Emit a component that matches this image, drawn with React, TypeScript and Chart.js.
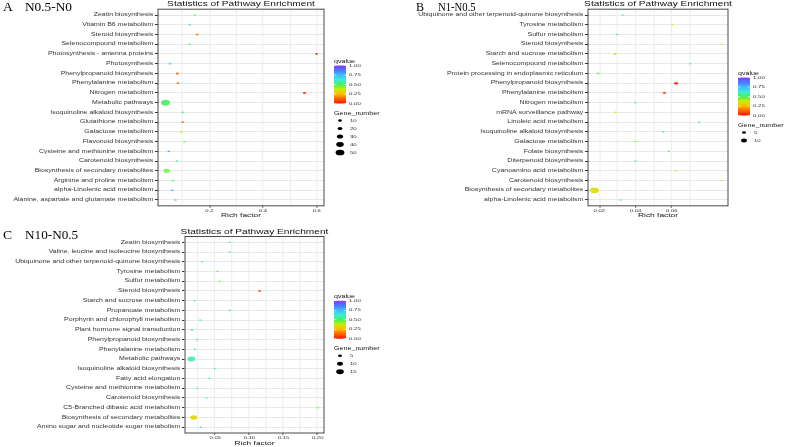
import React, { useEffect, useRef } from 'react';
import { Chart, registerables } from 'chart.js';
Chart.register(...registerables);

// horizontal stretch of the whole figure (text and bubbles are wider than tall)
const SX = 1.55;
const FONT = "'Liberation Sans', Arial, Helvetica, sans-serif";
const TITLE = 'Statistics of Pathway Enrichment';

// ---------------- Panel A : N0.5-N0 ----------------
const catsA = [
  'Zeatin biosynthesis',
  'Vitamin B6 metabolism',
  'Steroid biosynthesis',
  'Selenocompound metabolism',
  'Photosynthesis - antenna proteins',
  'Photosynthesis',
  'Phenylpropanoid biosynthesis',
  'Phenylalanine metabolism',
  'Nitrogen metabolism',
  'Metabolic pathways',
  'Isoquinoline alkaloid biosynthesis',
  'Glutathione metabolism',
  'Galactose metabolism',
  'Flavonoid biosynthesis',
  'Cysteine and methionine metabolism',
  'Carotenoid biosynthesis',
  'Biosynthesis of secondary metabolites',
  'Arginine and proline metabolism',
  'alpha-Linolenic acid metabolism',
  'Alanine, aspartate and glutamate metabolism',
];
const richA = [0.146, 0.127, 0.155, 0.127, 0.599, 0.053, 0.081, 0.083, 0.554, 0.037, 0.101, 0.101, 0.095, 0.107, 0.049, 0.079, 0.041, 0.065, 0.062, 0.074];
const qvalueA = [0.45, 0.66, 0.15, 0.52, 0.02, 0.68, 0.1, 0.13, 0.02, 0.5, 0.5, 0.13, 0.32, 0.46, 0.78, 0.6, 0.45, 0.5, 0.78, 0.52];
const genesA = [2, 2, 3, 2, 3, 3, 5, 4, 6, 50, 2, 5, 3, 2, 2, 2, 32, 2, 2, 2];
const xLabelsA = [0.2, 0.4, 0.6];
const xGridA = [0.1, 0.2, 0.3, 0.4, 0.5, 0.6];
const sizeBreaksA = [10, 20, 30, 40, 50];

// ---------------- Panel B : N1-N0.5 ----------------
const catsB = [
  'Ubiquinone and other terpenoid-quinone biosynthesis',
  'Tyrosine metabolism',
  'Sulfur metabolism',
  'Steroid biosynthesis',
  'Starch and sucrose metabolism',
  'Selenocompound metabolism',
  'Protein processing in endoplasmic reticulum',
  'Phenylpropanoid biosynthesis',
  'Phenylalanine metabolism',
  'Nitrogen metabolism',
  'mRNA surveillance pathway',
  'Linoleic acid metabolism',
  'Isoquinoline alkaloid biosynthesis',
  'Galactose metabolism',
  'Folate biosynthesis',
  'Diterpenoid biosynthesis',
  'Cyanoamino acid metabolism',
  'Carotenoid biosynthesis',
  'Biosynthesis of secondary metabolites',
  'alpha-Linolenic acid metabolism',
];
const richB = [0.0329, 0.0602, 0.0298, 0.0875, 0.0287, 0.0702, 0.0193, 0.0624, 0.056, 0.04, 0.0291, 0.0751, 0.0553, 0.04, 0.0584, 0.04, 0.062, 0.0875, 0.0173, 0.0318];
const qvalueB = [0.56, 0.36, 0.52, 0.36, 0.4, 0.56, 0.46, 0.03, 0.1, 0.58, 0.38, 0.52, 0.52, 0.44, 0.5, 0.58, 0.38, 0.35, 0.33, 0.52];
const genesB = [1, 1, 1, 1, 2, 1, 2, 5, 4, 1, 2, 1, 1, 2, 1, 1, 1, 1, 18, 1];
const xLabelsB = [0.02, 0.04, 0.06];
const xGridB = [0.02, 0.03, 0.04, 0.05, 0.06, 0.07];
const sizeBreaksB = [5, 10];

// ---------------- Panel C : N10-N0.5 ----------------
const catsC = [
  'Zeatin biosynthesis',
  'Valine, leucine and isoleucine biosynthesis',
  'Ubiquinone and other terpenoid-quinone biosynthesis',
  'Tyrosine metabolism',
  'Sulfur metabolism',
  'Steroid biosynthesis',
  'Starch and sucrose metabolism',
  'Propanoate metabolism',
  'Porphyrin and chlorophyll metabolism',
  'Plant hormone signal transduction',
  'Phenylpropanoid biosynthesis',
  'Phenylalanine metabolism',
  'Metabolic pathways',
  'Isoquinoline alkaloid biosynthesis',
  'Fatty acid elongation',
  'Cysteine and methionine metabolism',
  'Carotenoid biosynthesis',
  'C5-Branched dibasic acid metabolism',
  'Biosynthesis of secondary metabolites',
  'Amino sugar and nucleotide sugar metabolism',
];
const richC = [0.0709, 0.0709, 0.0305, 0.0534, 0.0563, 0.1148, 0.0197, 0.0709, 0.028, 0.0158, 0.0231, 0.0197, 0.0149, 0.049, 0.0412, 0.0231, 0.0373, 0.2, 0.0183, 0.0285];
const qvalueC = [0.56, 0.54, 0.57, 0.5, 0.47, 0.1, 0.57, 0.57, 0.6, 0.6, 0.57, 0.6, 0.58, 0.6, 0.6, 0.6, 0.6, 0.46, 0.3, 0.57];
const genesC = [1, 1, 1, 1, 1, 2, 1, 1, 1, 2, 1, 1, 15, 1, 1, 1, 1, 1, 13, 1];
const xLabelsC = [0.05, 0.1, 0.15, 0.2];
const xGridC = [0.025, 0.05, 0.075, 0.1, 0.125, 0.15, 0.175, 0.2];
const sizeBreaksC = [5, 10, 15];

const qvalueBreaks = [1, 0.75, 0.5, 0.25, 0];

const COLOR_STOPS: [number, string][] = [
  [0.0, '#ff1000'],
  [0.125, '#ff6400'],
  [0.25, '#ffbb00'],
  [0.375, '#c4f000'],
  [0.5, '#46f060'],
  [0.625, '#3cecd8'],
  [0.75, '#3cbcff'],
  [0.875, '#4a78ff'],
  [1.0, '#8c38ff'],
];

function hex(c: string) {
  return [parseInt(c.slice(1, 3), 16), parseInt(c.slice(3, 5), 16), parseInt(c.slice(5, 7), 16)];
}
function qColor(q: number, whiten = 0) {
  let a = COLOR_STOPS[0], b = COLOR_STOPS[COLOR_STOPS.length - 1];
  for (let i = 1; i < COLOR_STOPS.length; i++) {
    if (q <= COLOR_STOPS[i][0]) { a = COLOR_STOPS[i - 1]; b = COLOR_STOPS[i]; break; }
  }
  const t = b[0] === a[0] ? 0 : (q - a[0]) / (b[0] - a[0]);
  const ca = hex(a[1]), cb = hex(b[1]);
  const rgb = ca.map((v, i) => {
    const m = v + (cb[i] - v) * t;
    return Math.round(m + (255 - m) * whiten);
  });
  return `rgb(${rgb[0]},${rgb[1]},${rgb[2]})`;
}

interface PanelDef {
  cats: string[]; rich: number[]; qv: number[]; genes: number[];
  xLabels: number[]; xGrid: number[]; digits: number; sizeBreaks: number[];
  size: { nmin: number; nmax: number; wmin: number; wmax: number };
  box: { left: number; top: number; width: number; height: number };
  area: { left: number; right: number; top: number; bottom: number };
  padBottom: number;
}

const panelA: PanelDef = {
  cats: catsA, rich: richA, qv: qvalueA, genes: genesA, xLabels: xLabelsA, xGrid: xGridA, digits: 1,
  sizeBreaks: sizeBreaksA, size: { nmin: 1, nmax: 50, wmin: 2.5, wmax: 8.8 },
  box: { left: 0, top: 0, width: 390, height: 222 },
  area: { left: 158, right: 324, top: 9.2, bottom: 205.8 }, padBottom: 3,
};
const panelB: PanelDef = {
  cats: catsB, rich: richB, qv: qvalueB, genes: genesB, xLabels: xLabelsB, xGrid: xGridB, digits: 2,
  sizeBreaks: sizeBreaksB, size: { nmin: 1, nmax: 18, wmin: 2.5, wmax: 8.8 },
  box: { left: 390, top: 0, width: 396, height: 222 },
  area: { left: 198, right: 338, top: 9.2, bottom: 205.8 }, padBottom: 3,
};
const panelC: PanelDef = {
  cats: catsC, rich: richC, qv: qvalueC, genes: genesC, xLabels: xLabelsC, xGrid: xGridC, digits: 2,
  sizeBreaks: sizeBreaksC, size: { nmin: 1, nmax: 15, wmin: 2.5, wmax: 7.7 },
  box: { left: 0, top: 225, width: 390, height: 222 },
  area: { left: 185, right: 324, top: 11.5, bottom: 208 }, padBottom: 0,
};

function widthFor(p: PanelDef, n: number) {
  const s = p.size;
  return s.wmin + (s.wmax - s.wmin) * (n - s.nmin) / (s.nmax - s.nmin);
}

function decorPlugin(p: PanelDef) {
  return {
    id: 'decor',
    afterDraw(chart: any) {
      const ctx: CanvasRenderingContext2D = chart.ctx;
      const ca = chart.chartArea;
      ctx.save();
      // panel border
      ctx.fillStyle = '#4a4a4a';
      const vw = 1 / SX;
      ctx.fillRect(ca.left, ca.top - 0.5, ca.right - ca.left, 1);
      ctx.fillRect(ca.left, ca.bottom - 0.5, ca.right - ca.left, 1);
      ctx.fillRect(ca.left - vw / 2, ca.top - 0.5, vw, ca.bottom - ca.top + 1);
      ctx.fillRect(ca.right - vw / 2, ca.top - 0.5, vw, ca.bottom - ca.top + 1);
      // title
      ctx.fillStyle = '#111111';
      ctx.font = `6.55px ${FONT}`;
      ctx.textAlign = 'center';
      ctx.textBaseline = 'middle';
      ctx.fillText(TITLE, (ca.left + ca.right) / 2, ca.top - 4.7);
      // legend
      const nG = p.sizeBreaks.length;
      const cy = (ca.top + ca.bottom) / 2;
      const qv = cy - (30 + 4 * (nG - 1));
      const bx = ca.right + 10 / SX;
      const bw = 12 / SX;
      ctx.textAlign = 'left';
      ctx.fillStyle = '#111111';
      ctx.font = `4.6px ${FONT}`;
      ctx.fillText('qvalue', bx, qv);
      const top = qv + 4, bot = qv + 42;
      const g = ctx.createLinearGradient(0, bot, 0, top);
      COLOR_STOPS.forEach(([s, c]) => g.addColorStop(s, c));
      ctx.fillStyle = g;
      ctx.fillRect(bx, top, bw, bot - top);
      ctx.font = `3.9px ${FONT}`;
      qvalueBreaks.forEach((q) => {
        const y = bot - q * (bot - top);
        ctx.fillStyle = '#ffffff';
        ctx.fillRect(bx, y - 0.3, bw * 0.2, 0.6);
        ctx.fillRect(bx + bw * 0.8, y - 0.3, bw * 0.2, 0.6);
        ctx.fillStyle = '#2a2a2a';
        ctx.fillText(q.toFixed(2), bx + bw + 3 / SX, y);
      });
      ctx.fillStyle = '#111111';
      ctx.font = `4.6px ${FONT}`;
      ctx.fillText('Gene_number', bx, qv + 52);
      ctx.font = `3.9px ${FONT}`;
      p.sizeBreaks.forEach((n, i) => {
        const y = qv + 59 + 8 * i;
        const r = widthFor(p, n) / (2 * SX);
        ctx.fillStyle = '#000000';
        ctx.beginPath();
        ctx.arc(bx + 6 / SX, y, r, 0, Math.PI * 2);
        ctx.fill();
        ctx.fillStyle = '#2a2a2a';
        ctx.fillText(String(n), bx + 16 / SX, y);
      });
      ctx.restore();
    },
  };
}

function makeChart(canvas: HTMLCanvasElement, p: PanelDef) {
  const Lw = Math.floor(p.box.width / SX);
  canvas.width = Lw;
  canvas.height = p.box.height;
  const areaL = p.area.left / SX;
  const areaR = p.area.right / SX;
  const lo = Math.min(...p.rich), hi = Math.max(...p.rich);
  const ex = (hi - lo) * 0.05;
  const n = p.cats.length;
  const chart = new Chart(canvas, {
    type: 'bubble',
    data: {
      datasets: [{
        data: p.cats.map((_, i) => ({ x: p.rich[i], y: i, r: widthFor(p, p.genes[i]) / (2 * SX) })),
        backgroundColor: p.qv.map((q) => qColor(q, 0.1)),
        borderWidth: 0,
        hoverBorderWidth: 0,
      }],
    },
    options: {
      responsive: false,
      animation: false,
      events: [],
      devicePixelRatio: 1,
      layout: { padding: { left: 0, top: p.area.top, right: Lw - areaR, bottom: p.padBottom } },
      plugins: { legend: { display: false }, tooltip: { enabled: false }, title: { display: false } },
      scales: {
        x: {
          type: 'linear',
          bounds: 'data',
          min: lo - ex,
          max: hi + ex,
          afterBuildTicks: (s: any) => { s.ticks = p.xGrid.map((v) => ({ value: v })); },
          afterFit: (s: any) => { s.height = p.box.height - p.padBottom - p.area.bottom; },
          ticks: {
            autoSkip: false,
            maxRotation: 0,
            padding: 1,
            color: '#333333',
            font: { size: 3.8, family: FONT },
            callback: (v: any) => (p.xLabels.includes(v) ? Number(v).toFixed(p.digits) : ''),
          },
          grid: {
            color: '#e8e8e8',
            lineWidth: 1 / SX,
            tickLength: 2,
            tickWidth: 1 / SX,
            tickColor: (c: any) => (c.tick && p.xLabels.includes(c.tick.value) ? '#333333' : 'rgba(0,0,0,0)'),
          },
          border: { display: false },
          title: { display: true, text: 'Rich factor', color: '#111111', font: { size: 5.4, family: FONT }, padding: 0 },
        },
        y: {
          type: 'linear',
          bounds: 'data',
          reverse: true,
          min: -0.6,
          max: n - 0.4,
          afterBuildTicks: (s: any) => { s.ticks = p.cats.map((_, i) => ({ value: i })); },
          afterFit: (s: any) => { s.width = areaL; },
          ticks: {
            autoSkip: false,
            padding: 1,
            color: '#333333',
            font: { size: 4.5, family: FONT },
            callback: (v: any) => p.cats[Number(v)],
          },
          grid: { color: '#e8e8e8', lineWidth: 1, tickLength: 2, tickWidth: 1, tickColor: '#333333' },
          border: { display: false },
        },
      },
    } as any,
    plugins: [decorPlugin(p)],
  });
  // stretch horizontally: physical bitmap, logical layout scaled by SX
  canvas.width = p.box.width;
  chart.ctx.setTransform(SX, 0, 0, 1, 0, 0);
  chart.draw();
  return chart;
}

function Panel({ p }: { p: PanelDef }) {
  const ref = useRef<HTMLCanvasElement>(null);
  useEffect(() => {
    const c = ref.current;
    if (!c) return;
    const chart = makeChart(c, p);
    return () => chart.destroy();
  }, [p]);
  return (
    <canvas
      ref={ref}
      style={{ position: 'absolute', left: p.box.left, top: p.box.top, width: p.box.width, height: p.box.height }}
    />
  );
}

const letterStyle = (left: number, top: number, sx: number): React.CSSProperties => ({
  position: 'absolute', left, top, fontFamily: "'Liberation Serif', 'Times New Roman', serif", fontSize: 12,
  lineHeight: '12px', color: '#000', transform: `scaleX(${sx})`, transformOrigin: 'left top', whiteSpace: 'pre',
});

export default function App() {
  return (
    <div style={{ position: 'relative', width: 786, height: 447, background: '#ffffff', overflow: 'hidden' }}>
      <style>{'body{margin:0;}'}</style>
      <Panel p={panelA} />
      <Panel p={panelB} />
      <Panel p={panelC} />
      <div style={letterStyle(3, 1.2, 1.13)}>A</div>
      <div style={letterStyle(25, 1.2, 1.11)}>N0.5-N0</div>
      <div style={letterStyle(416, 1.2, 1.0)}>B</div>
      <div style={letterStyle(438, 1.2, 0.89)}>N1-N0.5</div>
      <div style={letterStyle(3, 229, 1.13)}>C</div>
      <div style={letterStyle(25, 229, 1.1)}>N10-N0.5</div>
    </div>
  );
}
